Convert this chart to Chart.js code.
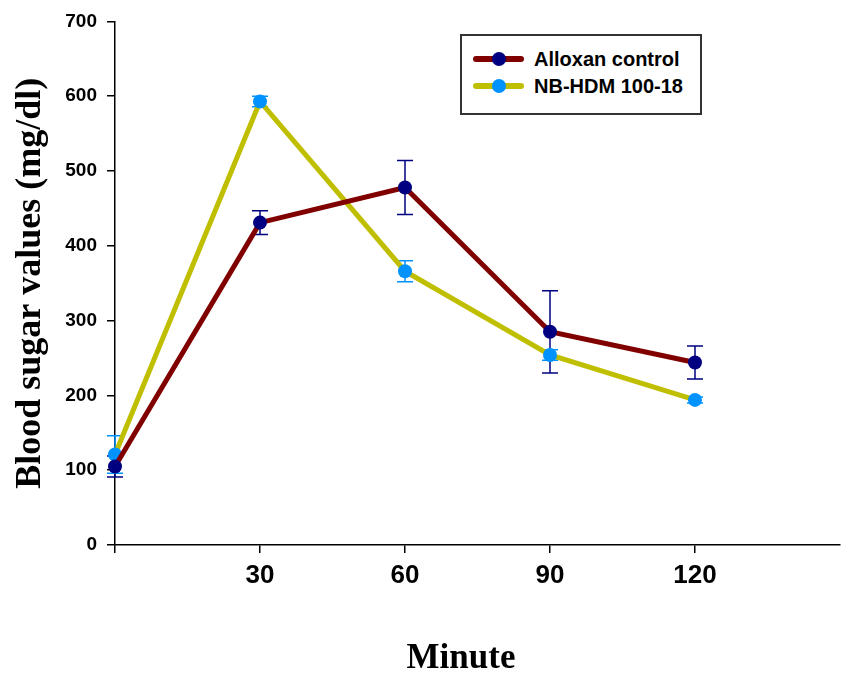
<!DOCTYPE html>
<html>
<head>
<meta charset="utf-8">
<script src="https://cdn.jsdelivr.net/npm/chart.js@4"></script>
<style>
    body { margin: 0; background: #fff; }
    #wrap { position: relative; width: 841px; height: 677px; }
    #legend {
        position: absolute; left: 460px; top: 34px; width: 238px; height: 77px;
        border: 2px solid #333; background: #fff;
        font: bold 20px "Liberation Sans", Arial, sans-serif; color: #000;
    }
    .row { position: absolute; left: 0; height: 24px; }
    .sample { position: absolute; left: 11px; top: 9px; width: 51px; height: 6px; border-radius: 3px; }
    .dot { position: absolute; left: 30px; top: 5px; width: 14px; height: 14px; border-radius: 50%; }
    .txt { position: absolute; left: 72px; top: 0; line-height: 24px; white-space: nowrap; }
    #xTitle {
        position: absolute; left: 361px; top: 636px; width: 200px; text-align: center;
        font: bold 35px "Liberation Serif", "Times New Roman", serif; line-height: 42px; color: #000;
    }
</style>
</head>
<body>
<div id="wrap">
    <canvas id="lineChart" width="841" height="677"></canvas>
    <div id="xTitle">Minute</div>
    <div id="legend">
        <div class="row" style="top:11px">
            <div class="sample" style="background:#800000"></div>
            <div class="dot" style="background:#000080"></div>
            <div class="txt">Alloxan control</div>
        </div>
        <div class="row" style="top:38px">
            <div class="sample" style="background:#bfbf00"></div>
            <div class="dot" style="background:#0092ff"></div>
            <div class="txt">NB-HDM 100-18</div>
        </div>
    </div>
</div>
<script>
// 数据
const minutes = [0, 30, 60, 90, 120];
const xTicks = [0, 30, 60, 90, 120];
const alloxan = [105, 431, 478, 285, 244];
const alloxanErr = [14, 16, 36, 55, 22];
const nbHdm = [121, 593, 366, 254, 194];
const nbHdmErr = [25, 7, 14, 7, 4];

const toPoints = (vals) => minutes.map((m, i) => ({x: m, y: vals[i]}));

// 误差线
const errorBars = {
    id: 'errorBars',
    beforeDatasetsDraw(chart) {
        const {ctx, scales: {x, y}} = chart;
        const errs = [alloxanErr, nbHdmErr];
        const colors = ['#000080', '#0092ff'];
        chart.data.datasets.forEach((ds, i) => {
            ctx.save();
            ctx.strokeStyle = colors[i];
            ctx.lineWidth = 1.5;
            ds.data.forEach((p, j) => {
                const px = x.getPixelForValue(p.x);
                const top = y.getPixelForValue(p.y + errs[i][j]);
                const bot = y.getPixelForValue(p.y - errs[i][j]);
                ctx.beginPath();
                ctx.moveTo(px, top); ctx.lineTo(px, bot);
                ctx.moveTo(px - 8, top); ctx.lineTo(px + 8, top);
                ctx.moveTo(px - 8, bot); ctx.lineTo(px + 8, bot);
                ctx.stroke();
            });
            ctx.restore();
        });
    }
};

const ctx = document.getElementById('lineChart').getContext('2d');
new Chart(ctx, {
    type: 'line',
    data: {
        datasets: [{
            label: 'Alloxan control',
            data: toPoints(alloxan),
            borderColor: '#800000',
            borderWidth: 5,
            pointRadius: 7,
            pointBorderWidth: 0,
            pointBackgroundColor: '#000080',
            tension: 0,
            clip: false
        }, {
            label: 'NB-HDM 100-18',
            data: toPoints(nbHdm),
            borderColor: '#bfbf00',
            borderWidth: 5,
            pointRadius: 7,
            pointBorderWidth: 0,
            pointBackgroundColor: '#0092ff',
            tension: 0,
            clip: false
        }]
    },
    options: {
        responsive: false,
        animation: false,
        layout: {autoPadding: false, padding: {top: 21, right: 1, left: 0, bottom: 0}},
        plugins: {legend: {display: false}, tooltip: {enabled: false}},
        scales: {
            x: {
                type: 'linear',
                min: 0,
                max: 150,
                afterBuildTicks: (scale) => { scale.ticks = xTicks.map(v => ({value: v})); },
                afterFit: (scale) => { scale.height = 132; },
                grid: {drawOnChartArea: false, color: '#000', tickLength: 8, lineWidth: 1.5},
                border: {color: '#000', width: 1.5},
                ticks: {
                    color: '#000',
                    padding: 7,
                    maxRotation: 0,
                    autoSkip: false,
                    font: {family: '"Liberation Sans", Arial', size: 26, weight: 'bold'},
                    callback: (v) => v === 0 ? '' : v
                }
            },
            y: {
                min: 0,
                max: 700,
                afterFit: (scale) => { scale.width = 115; },
                grid: {drawOnChartArea: false, color: '#000', tickLength: 8, lineWidth: 1.5},
                border: {color: '#000', width: 1.5},
                ticks: {
                    stepSize: 100,
                    color: '#000',
                    padding: 10,
                    font: {family: '"Liberation Sans", Arial', size: 19, weight: 'bold'}
                },
                title: {
                    display: true,
                    text: 'Blood sugar values (mg/dl)',
                    color: '#000',
                    padding: {top: 9, bottom: 0},
                    font: {family: '"Liberation Serif", "Times New Roman"', size: 36, weight: 'bold'}
                }
            }
        }
    },
    plugins: [errorBars]
});
</script>
</body>
</html>
